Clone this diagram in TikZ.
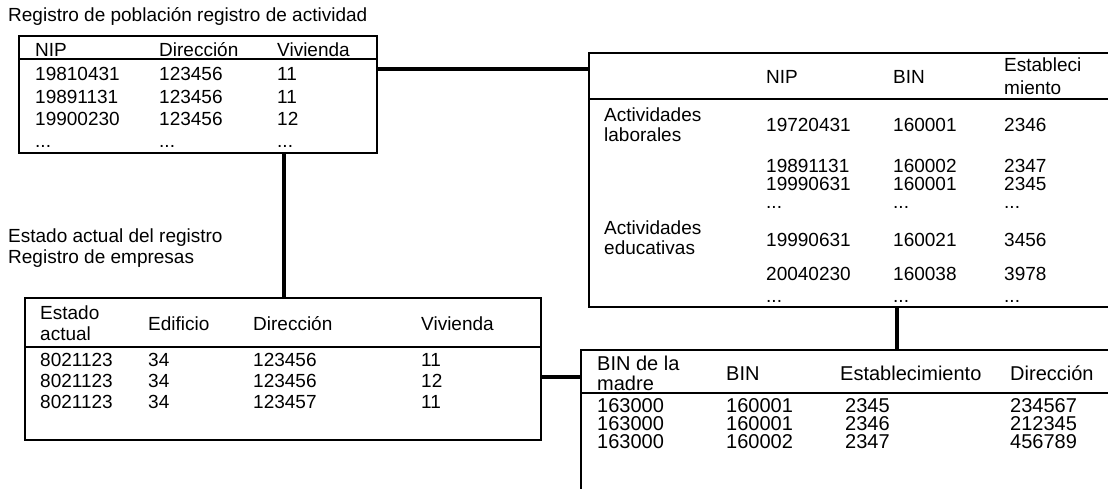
\documentclass[tikz,border=0pt]{standalone}
\usepackage{fontspec}
\setmainfont{Liberation Sans}
\begin{document}
\begin{tikzpicture}[x=1pt,y=-1pt,
  tbox/.style={draw, line width=1.6pt, inner sep=0pt, outer sep=0pt},
  sepline/.style={line width=1.6pt},
  conn/.style={line width=3.6pt},
  txt/.style={anchor=base west, inner sep=0pt, font=\fontsize{19}{21}\selectfont},
  txtl/.style={anchor=base west, inner sep=0pt, font=\fontsize{20}{21}\selectfont},
  txtt/.style={anchor=west, inner sep=0pt, align=left, font=\fontsize{19}{#1}\selectfont},
  txtt/.default=21,
  txttl/.style={anchor=west, inner sep=0pt, align=left, font=\fontsize{20}{#1}\selectfont},
  txttl/.default=20
]
\useasboundingbox (0,0) rectangle (1108,489);

% ---------- boxes ----------
\node[tbox, minimum width=358pt, minimum height=117pt] (b1) at (198,94.5) {};
\node[tbox, minimum width=526pt, minimum height=254pt] (ur) at (852,180) {};
\node[tbox, minimum width=516pt, minimum height=142pt] (b2) at (283,369) {};
\node[tbox, minimum width=534pt, minimum height=145pt] (lr) at (848,422.5) {};

% header separators
\draw[sepline] (b1.west |- 0,59) -- (b1.east |- 0,59);
\draw[sepline] (ur.west |- 0,99) -- (ur.east |- 0,99);
\draw[sepline] (b2.west |- 0,347) -- (b2.east |- 0,347);
\draw[sepline] (lr.west |- 0,393) -- (lr.east |- 0,393);

% ---------- connectors ----------
\draw[conn] (b1.east |- 0,69) -- (ur.west |- 0,69);
\draw[conn] (b1.south -| 284,0) -- (b2.north -| 284,0);
\draw[conn] (b2.east |- 0,377) -- (lr.west |- 0,377);
\draw[conn] (ur.south -| 897,0) -- (lr.north -| 897,0);

% ---------- titles ----------
\node[txt] (title1) at (8,22) {Registro de población registro de actividad};
\node[txtt] (title2) at (8,248) {Estado actual del registro\\Registro de empresas};

% ---------- box 1 ----------
\node[txt] (b1h1) at (35,57) {NIP};
\node[txt] (b1h2) at (159,57) {Dirección};
\node[txt] (b1h3) at (277,57) {Vivienda};
\node[txt] (b1r1a) at (35,81) {19810431};
\node[txt] (b1r1b) at (159,81) {123456};
\node[txt] (b1r1c) at (277,81) {11};
\node[txt] (b1r2a) at (35,103.5) {19891131};
\node[txt] (b1r2b) at (159,103.5) {123456};
\node[txt] (b1r2c) at (277,103.5) {11};
\node[txt] (b1r3a) at (35,126) {19900230};
\node[txt] (b1r3b) at (159,126) {123456};
\node[txt] (b1r3c) at (277,126) {12};
\node[txt] (b1r4a) at (35,148) {...};
\node[txt] (b1r4b) at (159,148) {...};
\node[txt] (b1r4c) at (277,148) {...};

% ---------- upper right box ----------
\node[txt] (urh1) at (766,84) {NIP};
\node[txt] (urh2) at (893,84) {BIN};
\node[txtt=23] (urh3) at (1004,76.5) {Estableci\\miento};
\node[txtt=20] (urg1) at (604,125) {Actividades\\laborales};
\node[txt] (urr1a) at (766,132) {19720431};
\node[txt] (urr1b) at (893,132) {160001};
\node[txt] (urr1c) at (1004,132) {2346};
\node[txt] (urr2a) at (766,173) {19891131};
\node[txt] (urr2b) at (893,173) {160002};
\node[txt] (urr2c) at (1004,173) {2347};
\node[txt] (urr3a) at (766,191) {19990631};
\node[txt] (urr3b) at (893,191) {160001};
\node[txt] (urr3c) at (1004,191) {2345};
\node[txt] (urr4a) at (766,208) {...};
\node[txt] (urr4b) at (893,208) {...};
\node[txt] (urr4c) at (1004,208) {...};
\node[txtt=20] (urg2) at (604,238) {Actividades\\educativas};
\node[txt] (urr5a) at (766,246) {19990631};
\node[txt] (urr5b) at (893,246) {160021};
\node[txt] (urr5c) at (1004,246) {3456};
\node[txt] (urr6a) at (766,280) {20040230};
\node[txt] (urr6b) at (893,280) {160038};
\node[txt] (urr6c) at (1004,280) {3978};
\node[txt] (urr7a) at (766,302) {...};
\node[txt] (urr7b) at (893,302) {...};
\node[txt] (urr7c) at (1004,302) {...};

% ---------- box 2 ----------
\node[txtt] (b2h1) at (40,323) {Estado\\actual};
\node[txt] (b2h2) at (148,330) {Edificio};
\node[txt] (b2h3) at (253,330) {Dirección};
\node[txt] (b2h4) at (421,330) {Vivienda};
\node[txt] (b2r1a) at (40,366) {8021123};
\node[txt] (b2r1b) at (148,366) {34};
\node[txt] (b2r1c) at (253,366) {123456};
\node[txt] (b2r1d) at (421,366) {11};
\node[txt] (b2r2a) at (40,387) {8021123};
\node[txt] (b2r2b) at (148,387) {34};
\node[txt] (b2r2c) at (253,387) {123456};
\node[txt] (b2r2d) at (421,387) {12};
\node[txt] (b2r3a) at (40,408) {8021123};
\node[txt] (b2r3b) at (148,408) {34};
\node[txt] (b2r3c) at (253,408) {123457};
\node[txt] (b2r3d) at (421,408) {11};

% ---------- lower right box ----------
\node[txttl] (lrh1) at (597,373) {BIN de la\\madre};
\node[txtl] (lrh2) at (726,380) {BIN};
\node[txtl] (lrh3) at (840,380) {Establecimiento};
\node[txtl] (lrh4) at (1010,380) {Dirección};
\node[txtl] (lrr1a) at (597,412) {163000};
\node[txtl] (lrr1b) at (726,412) {160001};
\node[txtl] (lrr1c) at (845,412) {2345};
\node[txtl] (lrr1d) at (1010,412) {234567};
\node[txtl] (lrr2a) at (597,430) {163000};
\node[txtl] (lrr2b) at (726,430) {160001};
\node[txtl] (lrr2c) at (845,430) {2346};
\node[txtl] (lrr2d) at (1010,430) {212345};
\node[txtl] (lrr3a) at (597,448) {163000};
\node[txtl] (lrr3b) at (726,448) {160002};
\node[txtl] (lrr3c) at (845,448) {2347};
\node[txtl] (lrr3d) at (1010,448) {456789};
\end{tikzpicture}
\end{document}
